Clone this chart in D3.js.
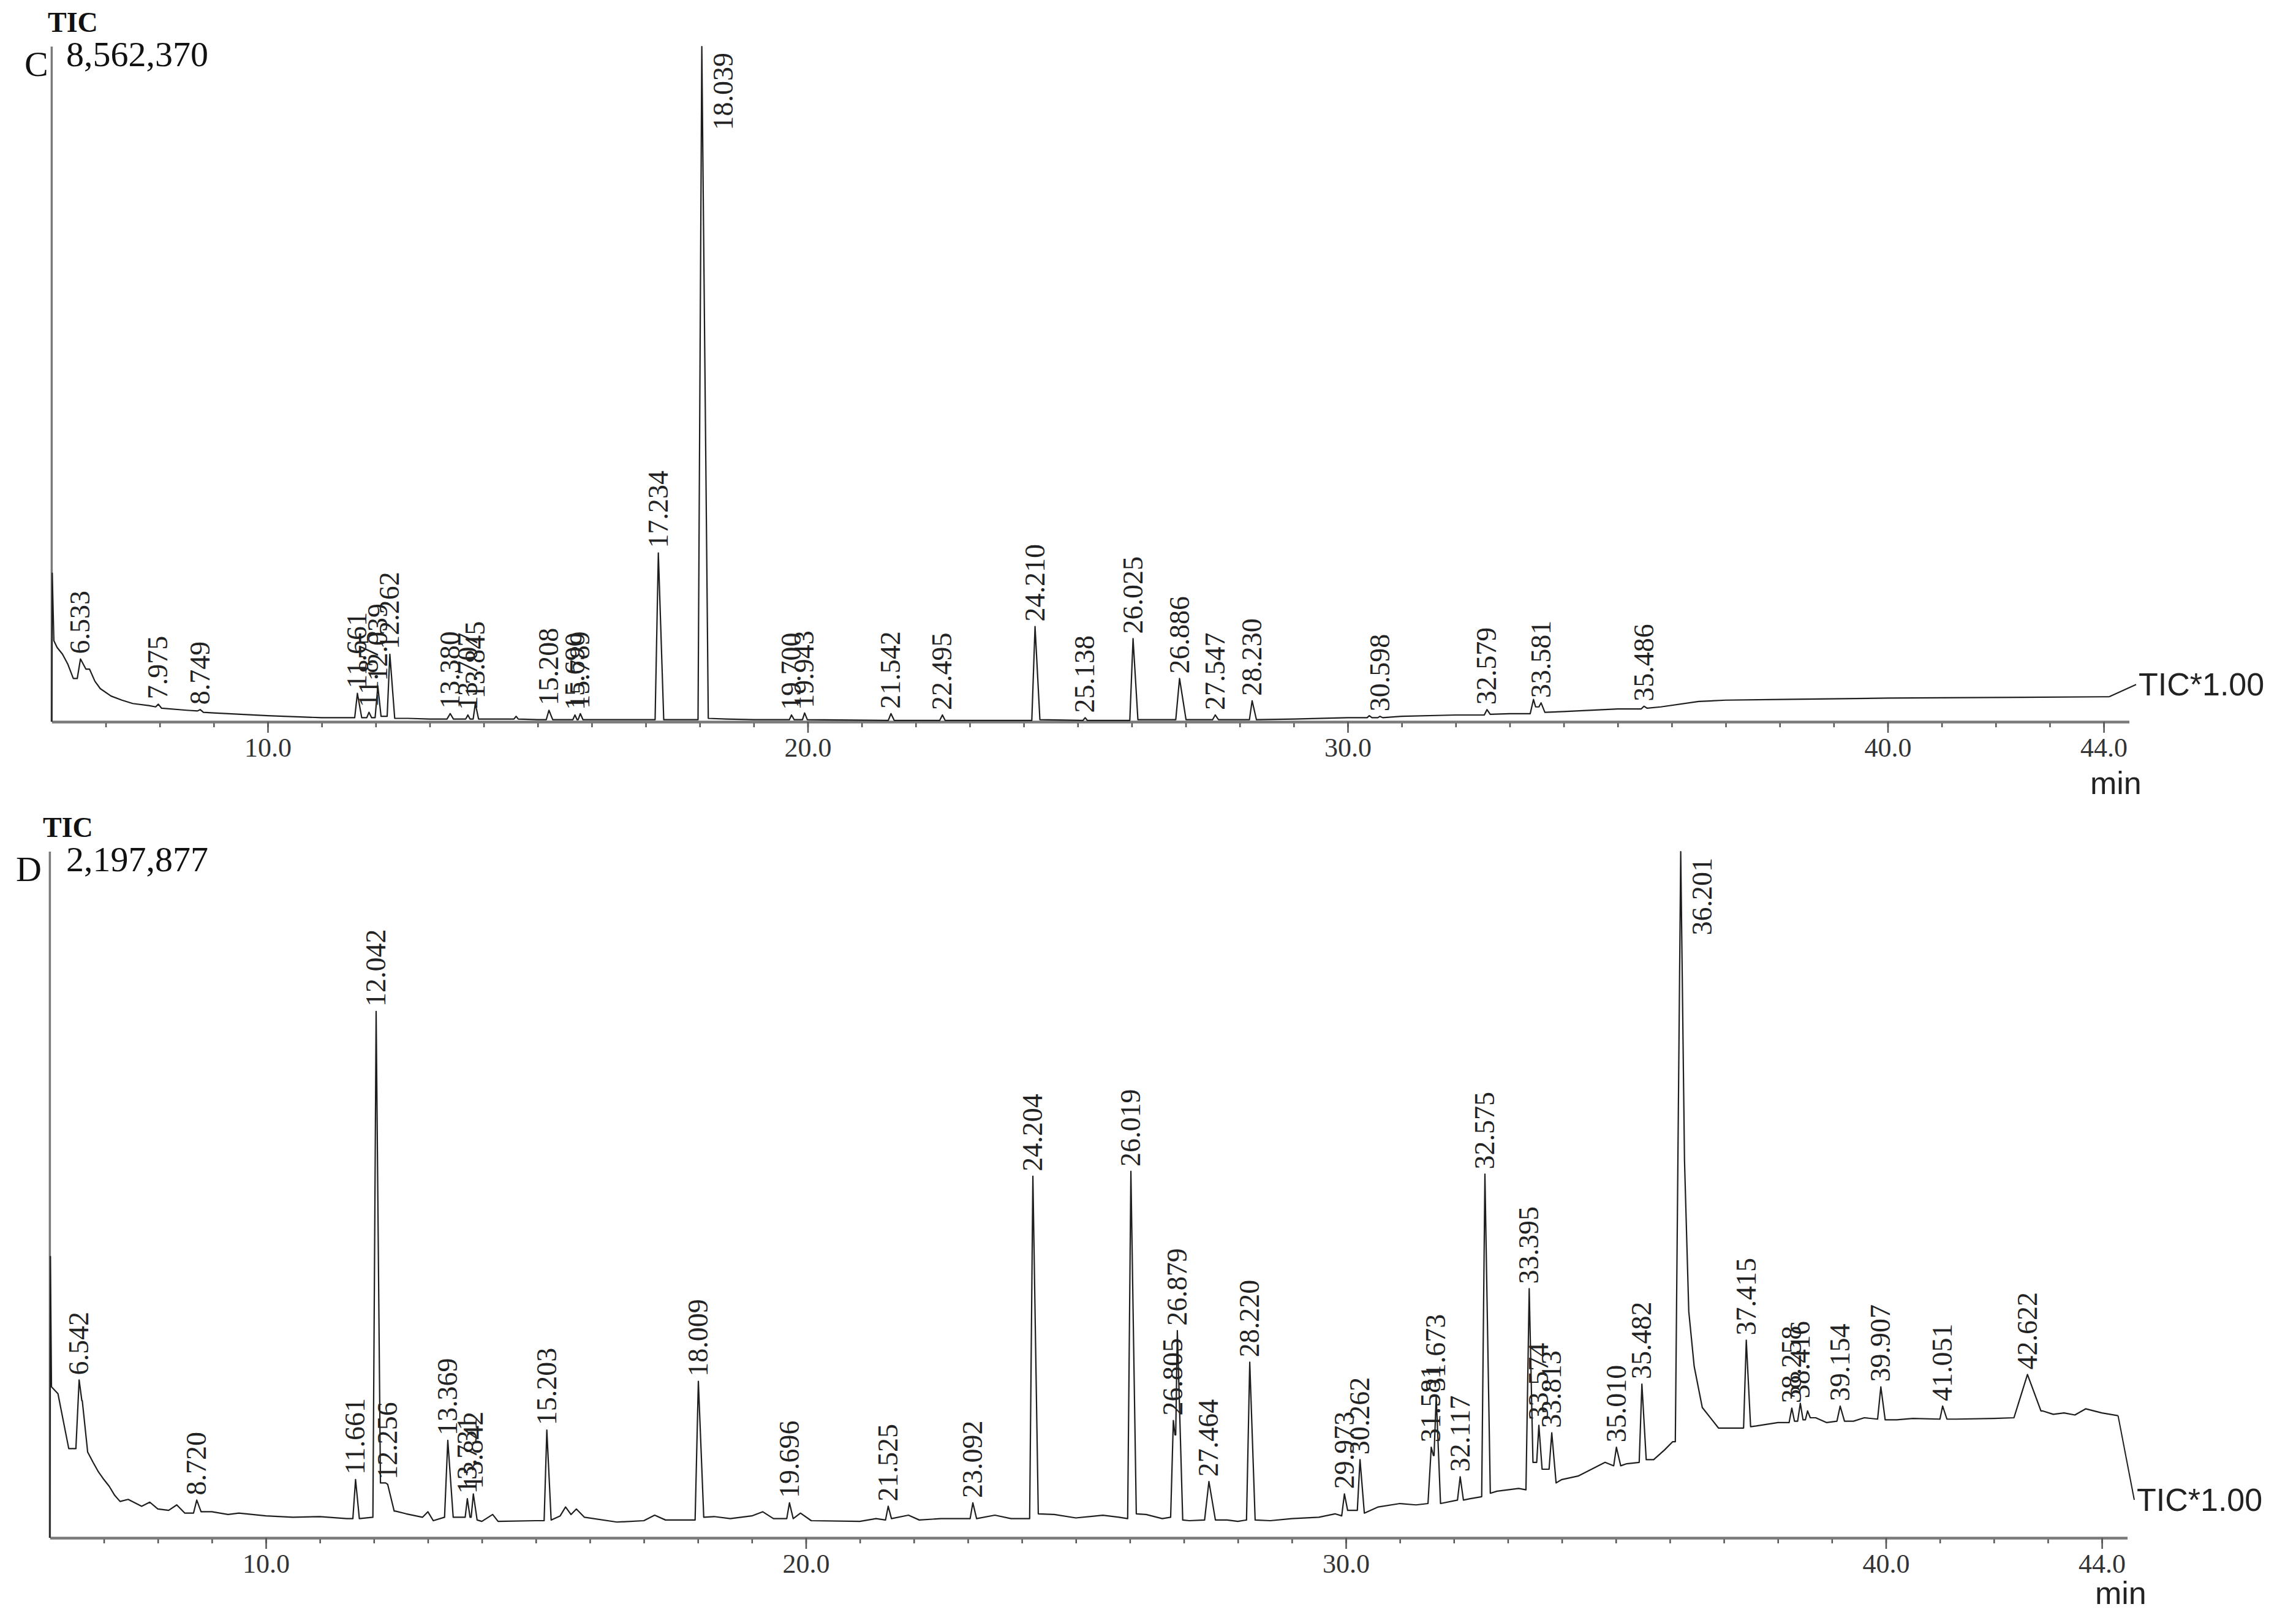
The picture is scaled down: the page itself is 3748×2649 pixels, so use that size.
<!DOCTYPE html>
<html>
<head>
<meta charset="utf-8">
<script src="https://cdn.jsdelivr.net/npm/d3@7"></script>
<style>
body { margin: 0; background: #fff; }
svg { display: block; }
</style>
</head>
<body>
<div id="chart"></div>
<script>
// baseline of each trace, [min, % of full scale]
var cBase = [[6.0,0],[6.01,22],[6.04,12],[6.1,11],[6.2,10],[6.3,8.5],[6.4,6.4],[6.7,7.8],[6.8,6],[6.9,4.9],[7.1,3.8],[7.3,3.2],[7.5,2.7],
    [7.8,2.4],[8.0,2.0],[8.5,1.7],[9.0,1.3],[9.5,1.1],[10,0.9],[11,0.6],[12.6,0.5],[13,0.4],[14,0.4],[15,0.3],[16,0.3],[17,0.3],
    [18.5,0.4],[19,0.3],[20,0.3],[22,0.2],[24,0.2],[26,0.2],[28,0.3],[29,0.4],[30,0.6],[31,0.8],[32,1.0],[33,1.2],[34,1.5],
    [35,1.9],[35.8,2.2],[36.5,3.0],[37,3.2],[38,3.3],[40,3.5],[42,3.6],[44,3.7],[44.1,3.7]];
// peaks: [rt, apex, footL, footR, widthL, widthR, label]
var cPeaks = [[6.533,9.3,6.4,7.8,0.06,0.1,1],[7.975,2.6,2.2,2.0,0.05,0.06,1],[8.749,1.8,1.6,1.4,0.05,0.06,1],
    [11.661,4.2,0.6,0.6,0.05,0.08,1],[11.875,1.4,0.6,0.6,0.04,0.05,1],[12.039,5.3,0.6,0.8,0.05,0.06,1],[12.262,10,0.8,0.5,0.05,0.09,1],
    [13.380,1.2,0.4,0.4,0.06,0.06,1],[13.707,1.0,0.4,0.4,0.04,0.04,1],[13.845,2.7,0.4,0.4,0.04,0.06,1],[14.6,0.8,0.4,0.4,0.04,0.04,0],
    [15.208,1.7,0.3,0.3,0.05,0.07,1],[15.690,1.0,0.3,0.3,0.04,0.04,1],[15.789,1.2,0.3,0.3,0.04,0.05,1],[17.234,25,0.3,0.3,0.06,0.1,1],
    [18.039,100,0.3,0.5,0.07,0.12,1],[19.700,1.0,0.3,0.3,0.04,0.05,1],[19.943,1.3,0.3,0.3,0.04,0.05,1],[21.542,1.2,0.2,0.2,0.05,0.06,1],
    [22.495,1.0,0.2,0.2,0.05,0.05,1],[24.210,14.1,0.2,0.3,0.06,0.09,1],[25.138,0.6,0.2,0.2,0.04,0.04,1],[26.025,12.3,0.2,0.3,0.06,0.09,1],
    [26.886,6.4,0.3,0.3,0.07,0.12,1],[27.547,1.0,0.3,0.3,0.05,0.06,1],[28.230,3.1,0.3,0.3,0.05,0.08,1],[30.4,0.9,0.6,0.6,0.04,0.05,0],
    [30.598,0.8,0.6,0.6,0.04,0.05,1],[32.579,1.8,1.0,1.1,0.05,0.06,1],[33.44,3.3,1.2,2.2,0.06,0.04,0],[33.581,2.8,2.2,1.4,0.04,0.07,1],
    [35.486,2.3,1.9,2.0,0.05,0.06,1]];

var dBase = [[6.0,0],[6.01,41],[6.03,22],[6.15,21],[6.25,17],[6.35,13],[6.6,20],[6.7,12.5],[6.8,11],[6.9,9.6],[7.0,8.5],[7.1,7.5],
    [7.2,6.2],[7.3,5.3],[7.45,5.6],[7.6,5.0],[7.7,4.6],[7.85,5.2],[8.0,4.2],[8.2,4.0],[8.35,4.8],[8.5,3.6],[9.0,3.8],[9.3,3.4],
    [9.5,3.6],[10,3.2],[10.5,3.0],[11,3.1],[11.5,2.8],[12.4,3.9],[12.6,3.5],[12.9,3.0],[13.0,3.8],[13.1,2.5],[13.55,3.0],
    [14.0,2.4],[14.2,3.4],[14.3,2.4],[15.0,2.5],[15.45,3.2],[15.55,4.5],[15.65,3.4],[15.75,4.2],[15.9,3.0],[16.5,2.3],[17.0,2.5],
    [17.2,3.3],[17.4,2.6],[17.8,2.6],[18.3,3.1],[18.6,2.8],[19.0,3.2],[19.2,3.8],[19.4,2.8],[19.9,3.6],[20.1,2.5],[21.0,2.4],
    [21.3,2.8],[21.9,3.3],[22.1,2.6],[22.5,2.8],[23.5,3.3],[23.8,2.8],[24.6,3.4],[25.0,2.9],[25.5,3.3],[25.8,3.0],[26.3,3.4],
    [26.6,2.8],[27.1,2.5],[27.8,2.6],[28.0,2.4],[28.6,2.5],[29.0,2.8],[29.5,3.0],[29.8,3.5],[30.6,4.5],[31.0,5.0],[31.3,4.8],
    [32.3,5.7],[32.8,6.8],[33.2,7.2],[34.0,8.5],[34.3,9.0],[34.6,10.2],[34.8,11],[35.2,10.8],[35.7,11.4],[35.9,12.8],[36.05,14],
    [36.35,33],[36.45,25],[36.6,19],[36.9,16],[37.2,16],[37.6,16.3],[38.0,16.8],[38.7,17.5],[38.9,16.8],[39.4,17.0],[39.6,17.5],[40.2,17.2],[40.5,17.4],
    [41.3,17.3],[42.0,17.4],[42.9,18.5],[43.1,18],[43.3,18.2],[43.5,17.9],[43.7,18.8],[44.0,18.2],[44.3,17.8]];
var dPeaks = [[6.542,23,13,20,0.06,0.05,1],[8.720,5.5,3.6,3.8,0.06,0.08,1],[11.661,8.5,2.8,2.8,0.05,0.07,1],
    [12.042,76.7,3.0,8,0.06,0.08,1],[12.256,7.8,8,3.9,0.04,0.12,1],[13.369,14.2,3.0,3.0,0.06,0.1,1],[13.731,5.7,3.0,3.0,0.04,0.05,1],
    [13.842,6.4,3.0,2.6,0.04,0.07,1],[15.203,15.7,2.5,2.6,0.05,0.08,1],[18.009,22.8,2.6,3.0,0.06,0.1,1],[19.696,5.1,2.8,2.8,0.05,0.07,1],
    [21.525,4.6,2.6,2.8,0.05,0.06,1],[23.092,5.1,2.8,2.8,0.05,0.07,1],[24.204,52.7,2.8,3.5,0.06,0.1,1],[26.019,53.4,2.8,3.5,0.06,0.1,1],
    [26.805,17.1,3.0,15,0.05,0.03,1],[26.879,30.2,15,2.6,0.03,0.1,1],[27.464,8.2,2.6,2.6,0.08,0.12,1],[28.220,25.6,2.6,2.6,0.06,0.1,1],
    [29.973,6.4,3.2,4,0.05,0.06,1],[30.262,11.4,4,3.6,0.05,0.08,1],[31.581,13.2,5,12,0.06,0.04,1],[31.673,20.6,12,5,0.04,0.08,1],
    [32.117,8.9,5.5,5.5,0.05,0.06,1],[32.575,53,6,6.5,0.06,0.1,1],[33.395,36.3,7,11,0.06,0.07,1],[33.574,16.4,11,10,0.04,0.06,1],
    [33.813,15.3,10,8,0.05,0.08,1],[35.010,13.2,10.5,10.5,0.05,0.08,1],[35.482,22.4,11,11.4,0.05,0.08,1],
    [36.201,100,14,55,0.1,0.07,1],[37.415,28.8,16,16.2,0.05,0.08,1],[38.258,18.9,16.8,17,0.05,0.05,1],[38.416,19.6,17,17.2,0.05,0.05,1],
    [38.55,18.5,17.2,17.5,0.04,0.05,0],[39.154,19.2,17,17,0.06,0.08,1],[39.907,22,17.3,17.2,0.06,0.08,1],[41.051,19.2,17.3,17.3,0.05,0.08,1],
    [42.622,23.8,17.5,18.5,0.25,0.25,1]];

var majorTicks = [10, 20, 30, 40, 44];
var panels = [
    {id: "C", max: "8,562,370", base: cBase, peaks: cPeaks, x0: 437, y0: 1178, y1: 76, axisEnd: 44.47},
    {id: "D", max: "2,197,877", base: dBase, peaks: dPeaks, x0: 434, y0: 2510, y1: 1390, axisEnd: 44.47}
];

var width = 3748, height = 2649;
var svg = d3.select("#chart").append("svg")
    .attr("width", width)
    .attr("height", height);

var serif = "'Liberation Serif', 'Times New Roman', serif";
var sans = "'Liberation Sans', Arial, sans-serif";

panels.forEach(function(p) {
    var x = d3.scaleLinear().domain([10, 44]).range([p.x0, p.x0 + 88.15 * 34]);
    var y = d3.scaleLinear().domain([0, 100]).range([p.y0, p.y1]);
    var g = svg.append("g").attr("class", "panel_" + p.id);

    // build the trace from baseline and peak points
    var pts = p.base.filter(function(b) {
        return !p.peaks.some(function(k) { return b[0] > k[0] - k[4] && b[0] < k[0] + k[5]; });
    }).map(function(b) { return [b[0], b[1]]; });
    p.peaks.forEach(function(k) {
        pts.push([k[0] - k[4], k[2]]);
        pts.push([k[0], k[1]]);
        pts.push([k[0] + k[5], k[3]]);
    });
    pts.sort(function(a, b) { return a[0] - b[0]; });

    // axes
    var axisX = d3.scaleLinear().domain([6, p.axisEnd]).range([x(6), x(p.axisEnd)]);
    g.append("g")
        .attr("transform", "translate(0," + p.y0 + ")")
        .call(d3.axisBottom(axisX).tickValues(d3.range(7, 45)).tickSize(9).tickSizeOuter(0).tickFormat(""));
    var major = g.append("g")
        .attr("transform", "translate(0," + p.y0 + ")")
        .call(d3.axisBottom(axisX).tickValues(majorTicks).tickSize(18).tickSizeOuter(0).tickPadding(8)
            .tickFormat(function(d) { return d.toFixed(1); }));
    g.selectAll(".domain").attr("stroke", "#7a7a7a").attr("stroke-width", 4);
    g.selectAll(".tick line").attr("stroke", "#555").attr("stroke-width", 2.5);
    major.selectAll("text").attr("font-family", serif).attr("font-size", 44).attr("fill", "#333");

    g.append("line")
        .attr("x1", x(6)).attr("x2", x(6))
        .attr("y1", p.y0).attr("y2", p.y1)
        .attr("stroke", "#7a7a7a").attr("stroke-width", 3.5);

    var line = d3.line()
        .x(function(d) { return x(d[0]); })
        .y(function(d) { return y(d[1]); });
    g.append("path")
        .datum(pts)
        .attr("d", line)
        .attr("fill", "none")
        .attr("stroke", "#1e1e1e")
        .attr("stroke-width", 2.2)
        .attr("stroke-linejoin", "round");

    // lead line to TIC label
    var last = pts[pts.length - 1];
    var lx = x(44.6), ly = p.id == "C" ? y(last[1]) - 20 : p.y0 - 62;
    g.append("line")
        .attr("x1", x(last[0])).attr("y1", y(last[1]))
        .attr("x2", lx).attr("y2", ly)
        .attr("stroke", "#1e1e1e").attr("stroke-width", 2);
    g.append("text")
        .text("TIC*1.00")
        .attr("x", lx + 4).attr("y", ly + 18)
        .attr("font-family", sans).attr("font-size", 52).attr("fill", "#222");
    g.append("text")
        .text("min")
        .attr("x", p.id == "C" ? 3412 : 3420).attr("y", p.y0 + (p.id == "C" ? 118 : 108))
        .attr("font-family", sans).attr("font-size", 52).attr("fill", "#222");

    // peak labels; the tallest one hangs down on the right of its peak
    g.selectAll(".plabel")
        .data(p.peaks.filter(function(k) { return k[6]; }))
        .enter()
        .append("text")
        .attr("class", "plabel")
        .text(function(k) { return k[0].toFixed(3); })
        .attr("text-anchor", function(k) { return k[1] > 90 ? "end" : "start"; })
        .attr("transform", function(k) {
            if (k[1] > 90) return "translate(" + (x(k[0]) + 50) + "," + (y(k[1]) + 10) + ") rotate(-90)";
            return "translate(" + (x(k[0]) + 15) + "," + (y(k[1]) - 8) + ") rotate(-90)";
        })
        .attr("font-family", serif).attr("font-size", 46).attr("fill", "#222");

    // header
    g.append("text").text("TIC")
        .attr("x", p.id == "C" ? 78 : 70).attr("y", p.y1 - 24)
        .attr("font-family", serif).attr("font-weight", "bold").attr("font-size", 46).attr("fill", "#111");
    g.append("text").text(p.id)
        .attr("x", p.id == "C" ? 40 : 26).attr("y", p.y1 + 48)
        .attr("font-family", serif).attr("font-size", 58).attr("fill", "#111");
    g.append("text").text(p.max)
        .attr("x", 108).attr("y", p.y1 + 32)
        .attr("font-family", serif).attr("font-size", 58).attr("fill", "#111");
});
</script>
</body>
</html>
